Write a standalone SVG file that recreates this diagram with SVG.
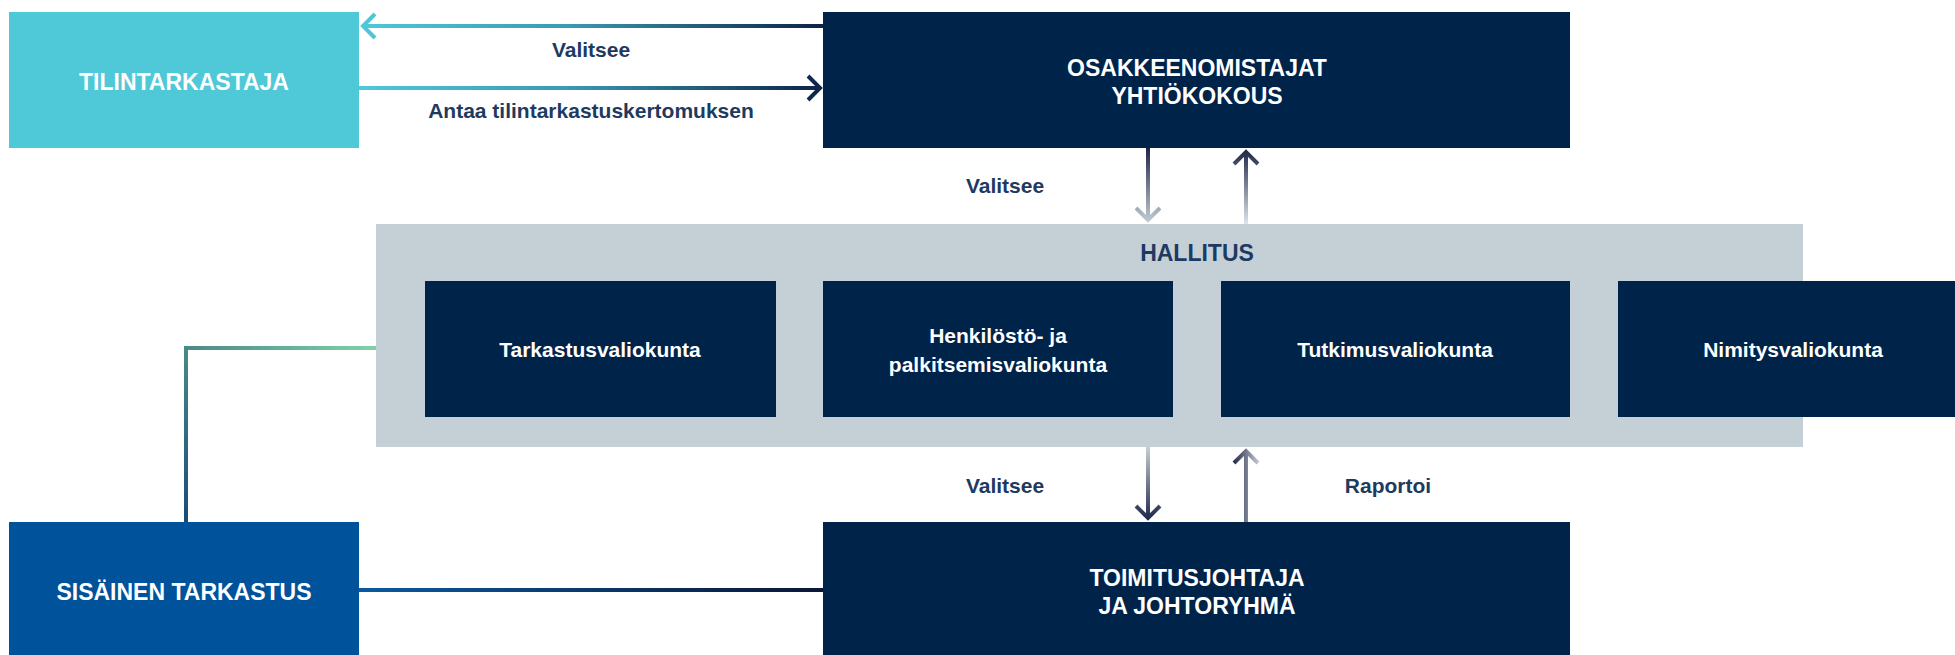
<svg xmlns="http://www.w3.org/2000/svg" width="1955" height="655" viewBox="0 0 1955 655">
<style>
.navy{fill:#00234a}
.cap{font-family:"Liberation Sans",Arial,sans-serif;font-weight:bold;font-size:23px;fill:#ffffff;text-anchor:middle}
.com{font-family:"Liberation Sans",Arial,sans-serif;font-weight:bold;font-size:21px;fill:#ffffff;text-anchor:middle}
.lbl{font-family:"Liberation Sans",Arial,sans-serif;font-weight:bold;font-size:21px;fill:#1e3a5f;text-anchor:middle}
.hal{font-family:"Liberation Sans",Arial,sans-serif;font-weight:bold;font-size:23px;fill:#1d3a63;text-anchor:middle}
.ln{fill:none;stroke-width:4;stroke-linejoin:miter;stroke-linecap:butt}
</style>
<defs>
<linearGradient id="gTopL" gradientUnits="userSpaceOnUse" x1="361" y1="0" x2="823" y2="0"><stop offset="0" stop-color="#4fc8d8"/><stop offset="0.45" stop-color="#3a9ab0"/><stop offset="1" stop-color="#0d2347"/></linearGradient>
<linearGradient id="gDn1" gradientUnits="userSpaceOnUse" x1="0" y1="148" x2="0" y2="224"><stop offset="0" stop-color="#1f2747"/><stop offset="1" stop-color="#c5d0d6"/></linearGradient>
<linearGradient id="gUp1" gradientUnits="userSpaceOnUse" x1="0" y1="150" x2="0" y2="224"><stop offset="0" stop-color="#1f2747"/><stop offset="1" stop-color="#dfe5ea"/></linearGradient>
<linearGradient id="gDn2" gradientUnits="userSpaceOnUse" x1="0" y1="447" x2="0" y2="520"><stop offset="0" stop-color="#c5d0d6"/><stop offset="1" stop-color="#1f2747"/></linearGradient>
<linearGradient id="gUp2" gradientUnits="userSpaceOnUse" x1="1233" y1="0" x2="1259" y2="0"><stop offset="0" stop-color="#1f2747"/><stop offset="1" stop-color="#c5cbd5"/></linearGradient>
<linearGradient id="gGrH" gradientUnits="userSpaceOnUse" x1="376" y1="0" x2="186" y2="0"><stop offset="0" stop-color="#7fd2a8"/><stop offset="1" stop-color="#4a8a8a"/></linearGradient>
<linearGradient id="gGrV" gradientUnits="userSpaceOnUse" x1="0" y1="346" x2="0" y2="522"><stop offset="0" stop-color="#4a8a8a"/><stop offset="1" stop-color="#1b4b78"/></linearGradient>
<linearGradient id="gBl" gradientUnits="userSpaceOnUse" x1="359" y1="0" x2="823" y2="0"><stop offset="0" stop-color="#0a5aa0"/><stop offset="1" stop-color="#0a1636"/></linearGradient>
</defs>

<g id="hallitus">
<rect x="376" y="224" width="1427" height="223" fill="#c5d0d6"/>
<text class="hal" x="1197" y="261">HALLITUS</text>
</g>
<g id="tarkastusvaliokunta">
<rect class="navy" x="425" y="281" width="351" height="136"/>
<text class="com" x="600" y="357">Tarkastusvaliokunta</text>
</g>
<g id="henkilostovaliokunta">
<rect class="navy" x="823" y="281" width="350" height="136"/>
<text class="com" x="998" y="343">Henkilöstö- ja</text>
<text class="com" x="998" y="372">palkitsemisvaliokunta</text>
</g>
<g id="tutkimusvaliokunta">
<rect class="navy" x="1221" y="281" width="349" height="136"/>
<text class="com" x="1395" y="357">Tutkimusvaliokunta</text>
</g>
<g id="nimitysvaliokunta">
<rect class="navy" x="1618" y="281" width="350" height="136"/>
<text class="com" x="1793" y="357">Nimitysvaliokunta</text>
</g>

<g id="tilintarkastaja">
<rect x="9" y="12" width="350" height="136" fill="#4fc8d8"/>
<text class="cap" x="184" y="90">TILINTARKASTAJA</text>
</g>
<g id="osakkeenomistajat">
<rect class="navy" x="823" y="12" width="747" height="136"/>
<text class="cap" x="1197" y="76">OSAKKEENOMISTAJAT</text>
<text class="cap" x="1197" y="104">YHTIÖKOKOUS</text>
</g>
<g id="sisainen">
<rect x="9" y="522" width="350" height="133" fill="#00529b"/>
<text class="cap" x="184" y="600">SISÄINEN TARKASTUS</text>
</g>
<g id="toimitusjohtaja">
<rect class="navy" x="823" y="522" width="747" height="133"/>
<text class="cap" x="1197" y="586">TOIMITUSJOHTAJA</text>
<text class="cap" x="1197" y="614">JA JOHTORYHMÄ</text>
</g>

<g id="connectors">
<path class="ln" stroke="url(#gTopL)" d="M823 26 H363 M375 14 L363 26 L375 38"/>
<path class="ln" stroke="url(#gTopL)" d="M359 88 H820 M808 76 L820 88 L808 100"/>
<path class="ln" stroke="url(#gDn1)" d="M1148 148 V220 M1136 208 L1148 220 L1160 208"/>
<path class="ln" stroke="url(#gUp1)" d="M1246 224 V152 M1234 164 L1246 152 L1258 164"/>
<path class="ln" stroke="url(#gDn2)" d="M1148 447 V518 M1136 506 L1148 518 L1160 506"/>
<path class="ln" stroke="url(#gUp2)" d="M1246 522 V451 M1234 463 L1246 451 L1258 463"/>
<path class="ln" stroke="url(#gGrH)" d="M376 348 H184"/>
<path class="ln" stroke="url(#gGrV)" d="M186 346 V522"/>
<path class="ln" stroke="url(#gBl)" d="M359 590 H823"/>
<text class="lbl" x="591" y="57">Valitsee</text>
<text class="lbl" x="591" y="118">Antaa tilintarkastuskertomuksen</text>
<text class="lbl" x="1005" y="193">Valitsee</text>
<text class="lbl" x="1005" y="493">Valitsee</text>
<text class="lbl" x="1388" y="493">Raportoi</text>
</g>
</svg>
